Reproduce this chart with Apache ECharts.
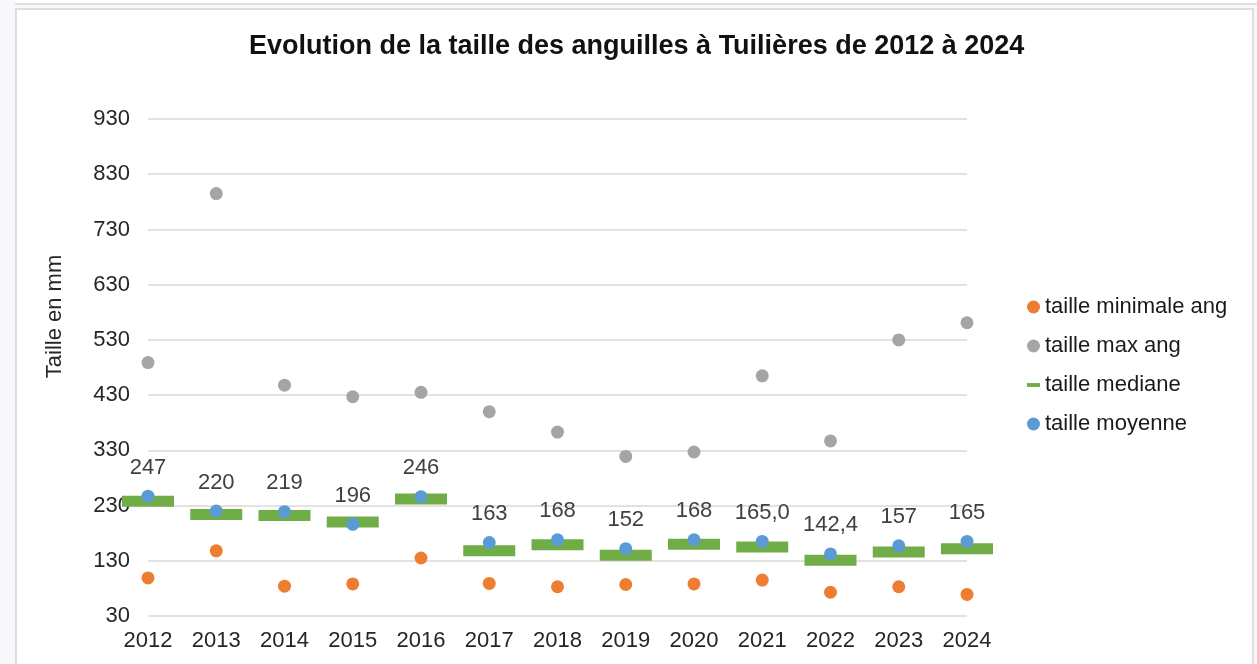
<!DOCTYPE html>
<html>
<head>
<meta charset="utf-8">
<script src="https://cdn.jsdelivr.net/npm/echarts@6/dist/echarts.min.js"></script>
<style>
  html, body { margin: 0; padding: 0; background: #f7f8fa; }
  .top-bar {
    position: absolute; left: 15px; top: 0; width: 1242px; height: 3px;
    border-bottom: 2px solid #dedede; background: #fff;
  }
  .frame {
    position: absolute; left: 15px; top: 8px; width: 1235px; height: 660px;
    border: 2px solid #dedede; background: #fff;
  }
  #chart { position: absolute; left: 0; top: 0; width: 1257px; height: 664px; }
</style>
</head>
<body>
<div class="top-bar"></div>
<div class="frame"></div>
<div id="chart"></div>
<script>
const years = ['2012', '2013', '2014', '2015', '2016', '2017', '2018', '2019', '2020', '2021', '2022', '2023', '2024']
const tailleMin = [99, 148, 84, 88, 135, 89, 83, 87, 88, 95, 73, 83, 69]
const tailleMax = [489, 795, 448, 427, 435, 400, 363, 319, 327, 465, 347, 530, 561]
const tailleMediane = [238, 214, 212, 200, 242, 148, 159, 140, 160, 155, 131, 146, 152]
const tailleMoyenne = [247, 220, 219, 196, 246, 163, 168, 152, 168, 165.0, 142.4, 157, 165]
const moyenneLabels = ['247', '220', '219', '196', '246', '163', '168', '152', '168', '165,0', '142,4', '157', '165']

const FONT = '"Liberation Sans", Arial, sans-serif'
const chart = echarts.init(document.getElementById('chart'))

chart.setOption({
  backgroundColor: 'transparent',
  textStyle: { fontFamily: FONT },
  title: {
    text: 'Evolution de la taille des anguilles à Tuilières de 2012 à 2024',
    left: 244,
    top: 28,
    textStyle: { fontSize: 27, fontWeight: 'bold', color: '#111', fontFamily: FONT },
  },
  legend: {
    orient: 'vertical',
    left: 1022,
    top: 291,
    itemWidth: 13,
    itemHeight: 13,
    itemGap: 17,
    textStyle: { fontSize: 22, color: '#1a1a1a', fontFamily: FONT },
    data: [
      { name: 'taille minimale ang', icon: 'circle' },
      { name: 'taille max ang', icon: 'circle' },
      { name: 'taille mediane', icon: 'path://M0,0h10v3h-10z' },
      { name: 'taille moyenne', icon: 'circle' },
    ],
  },
  grid: { left: 148, right: 290, top: 119, bottom: 48 },
  xAxis: {
    type: 'category',
    data: years,
    boundaryGap: false,
    axisLine: { show: false },
    axisTick: { show: false },
    axisLabel: { fontSize: 22, color: '#262626', margin: 14, fontFamily: FONT },
  },
  yAxis: {
    type: 'value',
    min: 30,
    max: 930,
    interval: 100,
    name: 'Taille en mm',
    nameLocation: 'middle',
    nameGap: 82,
    nameTextStyle: { fontSize: 22, color: '#262626', fontFamily: FONT, padding: [0, 0, 0, 102] },
    axisLine: { show: false },
    axisTick: { show: false },
    axisLabel: { fontSize: 22, color: '#262626', margin: 18, fontFamily: FONT },
    splitLine: { lineStyle: { color: '#d9d9d9', width: 1.5 } },
  },
  series: [
    {
      name: 'taille minimale ang',
      type: 'scatter',
      data: tailleMin,
      symbolSize: 13,
      itemStyle: { color: '#ED7D31', opacity: 1 },
    },
    {
      name: 'taille max ang',
      type: 'scatter',
      data: tailleMax,
      symbolSize: 13,
      itemStyle: { color: '#A5A5A5', opacity: 1 },
    },
    {
      name: 'taille mediane',
      type: 'scatter',
      data: tailleMediane,
      symbol: 'rect',
      symbolSize: [52, 11],
      itemStyle: { color: '#70AD47', opacity: 1 },
    },
    {
      name: 'taille moyenne',
      type: 'scatter',
      data: tailleMoyenne,
      symbolSize: 13,
      itemStyle: { color: '#5B9BD5', opacity: 1 },
      label: {
        show: true,
        position: 'top',
        distance: 11,
        fontSize: 22,
        color: '#404040',
        fontFamily: FONT,
        formatter: (p) => moyenneLabels[p.dataIndex],
      },
    },
  ],
})
</script>
</body>
</html>
